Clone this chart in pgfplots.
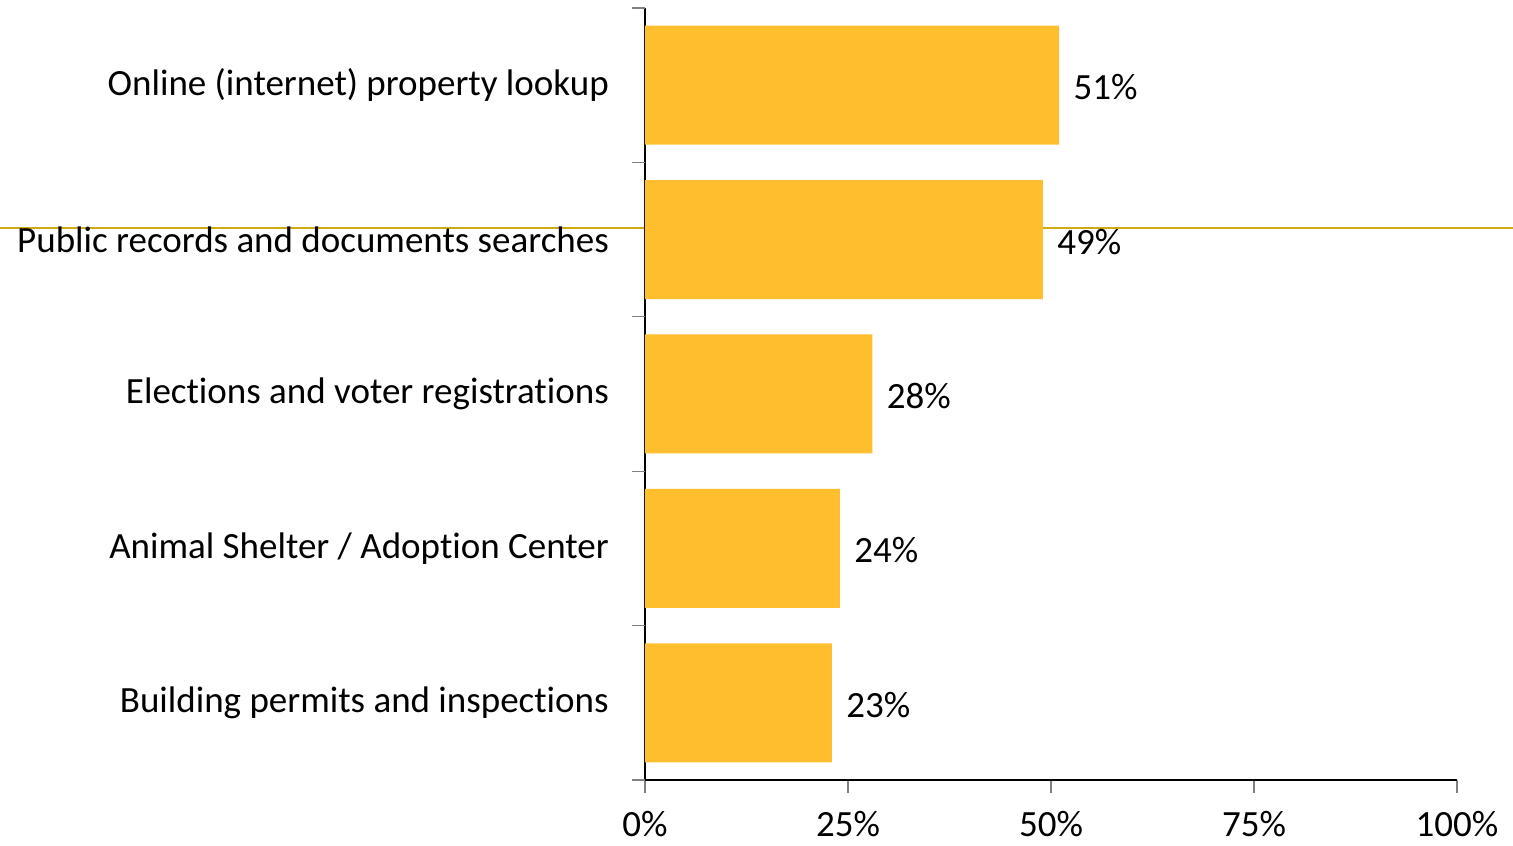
\documentclass[border=0pt]{standalone}
\usepackage{pgfplots}
\pgfplotsset{compat=1.18}
\usepackage{fontspec}
\setmainfont[Ligatures=NoCommon]{Carlito}
\definecolor{barc}{RGB}{255,190,46}
\definecolor{tickg}{RGB}{128,128,128}
\definecolor{artline}{RGB}{205,170,20}
\begin{document}
\begin{tikzpicture}[x=1pt,y=1pt]
\draw[artline, line width=1.6pt] (-645,552) -- (868,552);
\begin{axis}[
  at={(0,0)}, anchor=south west,
  scale only axis,
  width=812pt, height=772pt,
  xbar, bar width=119pt,
  xmin=0, xmax=100, ymin=0.5, ymax=5.5,
  enlargelimits=false,
  axis x line*=bottom, axis y line*=left,
  axis line style={black, line width=1.2pt, -},
  xtick={0,25,50,75,100},
  xticklabels={0\%,25\%,50\%,75\%,100\%},
  ytick={1,2,3,4,5},
  yticklabels={Building permits and inspections, Animal Shelter / Adoption Center, Elections and voter registrations, Public records and documents searches, Online (internet) property lookup},
  extra y ticks={0.5,1.5,2.5,3.5,4.5,5.5},
  extra y tick labels={},
  extra y tick style={y tick style={draw=tickg, line width=1.2pt}},
  y tick style={draw=none},
  x tick style={tickg, line width=1.2pt},
  tick align=outside,
  major tick length=13pt,
  tick pos=left,
  every tick label/.append style={font=\fontsize{37}{44}\selectfont, text=black},
  yticklabel style={anchor=east, inner sep=0pt, xshift=-23pt},
  xticklabel style={anchor=north, inner sep=0pt, text depth=0pt, yshift=-18pt},
  /pgf/number format/assume math mode=true,
  point meta=x,
  nodes near coords={\pgfmathprintnumber{\pgfplotspointmeta}\%},
  every node near coord/.append style={font=\fontsize{37}{44}\selectfont, text=black, anchor=west, xshift=11pt, yshift=-2pt},
  clip=false,
]
\addplot[fill=barc, draw=none] coordinates {(23,1) (24,2) (28,3) (49,4) (51,5)};
\end{axis}
\pgfresetboundingbox
\useasboundingbox (-645,-66) rectangle (868,780);
\end{tikzpicture}
\end{document}
